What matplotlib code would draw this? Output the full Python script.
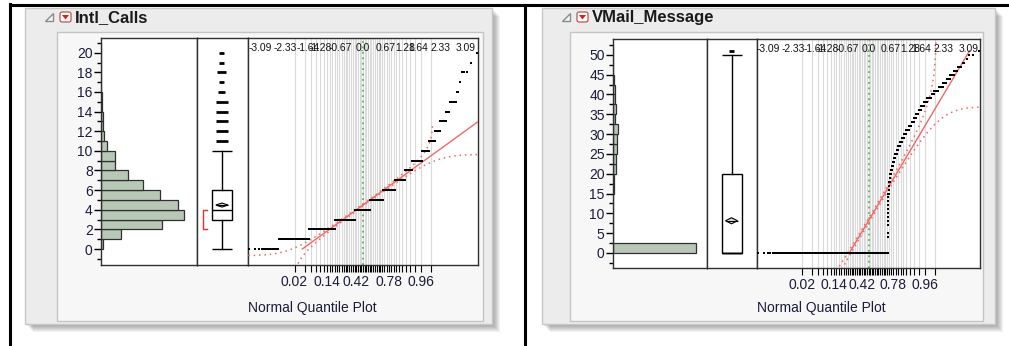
import numpy as np
import matplotlib
matplotlib.use("Agg")
import matplotlib.pyplot as plt
from matplotlib.patches import Rectangle, Polygon, FancyBboxPatch
from matplotlib.ticker import MultipleLocator
from statistics import NormalDist

plt.rcParams['font.family'] = ['Liberation Sans', 'DejaVu Sans']

W, H = 1009, 346

# ── data ────────────────────────────────────────────────────────────────────
intl_values = np.arange(0, 21)
intl_counts = [18, 160, 489, 668, 619, 472, 336, 218, 116, 109, 50,
               28, 15, 14, 6, 7, 2, 1, 3, 1, 1]

vmail_values = np.arange(0, 52)
vmail_counts = [2411, 0, 0, 0, 1, 1, 0, 1, 2, 1,
                1, 2, 6, 4, 7, 9, 13, 14, 7, 19,
                22, 28, 32, 36, 42, 37, 41, 44, 51, 53,
                44, 60, 41, 41, 29, 32, 34, 29, 25, 30,
                16, 19, 15, 9, 7, 6, 4, 3, 2, 1,
                2, 1]

top_quantile_labels = ['-3.09', '-2.33', '-1.64', '-1.28', '-0.67', '0.0',
                       '0.67', '1.28', '1.64', '2.33', '3.09']
prob_grid = np.round(np.arange(0.02, 0.99, 0.02), 2)
prob_labels = [0.02, 0.14, 0.42, 0.78, 0.96]
band_d = 0.018

ND = NormalDist()
TXT = '#1c1c3c'
EDGE = '#303030'
RED = '#f06868'


def rect(l, t, r, b):
    return [l / W, 1 - b / H, (r - l) / W, (b - t) / H]


fig = plt.figure(figsize=(W / 100, H / 100), dpi=100)
bg = fig.add_axes([0, 0, 1, 1], zorder=-10)
bg.set_xlim(0, W)
bg.set_ylim(H, 0)
bg.axis('off')

# table borders
bg.plot([10, 10], [4, H], color='black', lw=2.2)
bg.plot([10, W], [5, 5], color='black', lw=2.2)
bg.plot([525, 525], [5, H], color='black', lw=2.2)


def frame(x0, y0, x1, y1, ix0, iy0, ix1, iy1, title):
    for k in range(1, 9):
        bg.add_patch(Rectangle((x0 + k, y0 + k), x1 - x0, y1 - y0,
                               fc='black', ec='none', alpha=0.05))
    bg.add_patch(Rectangle((x0, y0), x1 - x0, y1 - y0, fc='#ececec', ec='#c8c8c8', lw=1))
    bg.add_patch(Rectangle((ix0, iy0), ix1 - ix0, iy1 - iy0, fc='#f7f7f7', ec='#c4c4c4', lw=1))
    # disclosure triangle
    bg.add_patch(Polygon([(x0 + 20, 21), (x0 + 28, 21), (x0 + 28, 13)],
                         closed=True, fc='#f4f4f4', ec='#8a8a8a', lw=1))
    # red popup icon
    bg.add_patch(FancyBboxPatch((x0 + 35, 12), 11, 10, boxstyle='round,pad=0,rounding_size=2',
                                fc='white', ec='#c04040', lw=0.8))
    bg.add_patch(Polygon([(x0 + 37, 15), (x0 + 44, 15), (x0 + 40.5, 19.5)],
                         closed=True, fc='#d42020', ec='none'))
    bg.text(x0 + 50, 17.5, title, fontsize=12, fontweight='bold', ha='left',
            va='center', color='#1a1a1a')


def panel(hist_px, box_px, qq_px, values, counts, bin_w, ylim, major, minor, hist_xmax):
    data = np.repeat(values, counts)
    n = len(data)
    mean, sd = data.mean(), data.std(ddof=1)

    # histogram
    ax_h = fig.add_axes(rect(*hist_px))
    edges = np.arange(0, values.max() + bin_w * 1.001, bin_w)
    h, _ = np.histogram(values, bins=edges, weights=counts)
    ax_h.barh(edges[:-1], h, height=bin_w, align='edge', color='#b8c8b6',
              edgecolor=EDGE, lw=0.9)
    ax_h.set_xlim(0, hist_xmax)
    ax_h.set_ylim(*ylim)
    ax_h.set_xticks([])
    ax_h.yaxis.set_major_locator(MultipleLocator(major))
    ax_h.yaxis.set_minor_locator(MultipleLocator(minor))
    ax_h.tick_params(axis='y', which='major', length=5, width=1, labelsize=10,
                     labelcolor=TXT, pad=1)
    ax_h.tick_params(axis='y', which='minor', length=3, width=1)

    # box plot
    ax_b = fig.add_axes(rect(*box_px))
    q1, med, q3 = np.percentile(data, [25, 50, 75])
    iqr = q3 - q1
    lo = data[data >= q1 - 1.5 * iqr].min()
    hi = data[data <= q3 + 1.5 * iqr].max()
    c, bw = 0.49, 0.2
    ax_b.add_patch(Rectangle((c - bw, q1), 2 * bw, q3 - q1, fc='white', ec='black', lw=1))
    ax_b.hlines([med, lo, hi], c - bw, c + bw, color='black', lw=1)
    ax_b.plot([c, c], [lo, q1], color='black', lw=1)
    ax_b.plot([c, c], [q3, hi], color='black', lw=1)
    for v, k in zip(values, counts):
        if k > 0 and (v > hi or v < lo):
            half = min(3 + 2 * k, 12) / 2 / (box_px[2] - box_px[0])
            ax_b.hlines(v, c - half, c + half, color='black', lw=2)
    ci = 1.96 * sd / np.sqrt(n)
    ax_b.add_patch(Polygon([(c - 0.12, mean), (c, mean + ci + 0.12 * minor),
                            (c + 0.12, mean), (c, mean - ci - 0.12 * minor)],
                           closed=True, fc='#dddddd', ec='black', lw=0.8))
    ax_b.hlines(mean, c - 0.12, c + 0.12, color='black', lw=0.8)
    srt = np.sort(data)
    half_n = n // 2
    i = np.argmin(srt[half_n:] - srt[:n - half_n])
    s_lo, s_hi = srt[i], srt[i + half_n]
    if s_hi > s_lo:
        ax_b.plot([0.2, 0.12, 0.12, 0.2], [s_lo, s_lo, s_hi, s_hi], color='#e03030', lw=1)
    ax_b.set_xlim(0, 1)
    ax_b.set_ylim(*ylim)
    ax_b.set_xticks([])
    ax_b.set_yticks([])

    # normal quantile plot
    ax_q = fig.add_axes(rect(*qq_px))
    zgrid = [ND.inv_cdf(p) for p in prob_grid]
    for zg in zgrid:
        ax_q.axvline(zg, color='#dadada', lw=0.8, zorder=0)
    ax_q.axvline(0, color='#5cb85c', lw=1.3, ls=(0, (1, 2)), zorder=1)
    z = np.array([ND.inv_cdf(r / (n + 1)) for r in range(1, n + 1)])
    ax_q.scatter(z, data, s=2.6, marker='s', color='black', lw=0, zorder=4)

    xl = 3.45
    z0 = (data.min() - mean) / sd
    z1 = min((data.max() - mean) / sd, xl)
    ax_q.plot([z0, z1], [mean + sd * z0, mean + sd * z1], color=RED, lw=1, zorder=3)
    zz = np.linspace(-3.6, 3.6, 600)
    p = np.array([ND.cdf(v) for v in zz])
    m_up = p + band_d < 1
    m_lo = p - band_d > 0
    up = [mean + sd * ND.inv_cdf(v + band_d) for v in p[m_up]]
    dn = [mean + sd * ND.inv_cdf(v - band_d) for v in p[m_lo]]
    ax_q.plot(zz[m_up], up, color=RED, lw=1.1, ls=(0, (1, 2.5)), zorder=3)
    ax_q.plot(zz[m_lo], dn, color=RED, lw=1.1, ls=(0, (1, 2.5)), zorder=3)

    ax_q.set_xlim(-xl, xl)
    ax_q.set_ylim(*ylim)
    ax_q.set_yticks([])
    ax_q.set_xticks(zgrid)
    ax_q.set_xticklabels([f'{pg:.2f}' if pg in prob_labels else '' for pg in prob_grid])
    ax_q.tick_params(axis='x', length=5, width=0.8, labelsize=10, labelcolor=TXT, pad=2)
    for lab in top_quantile_labels:
        ax_q.text(float(lab), 0.978, lab, transform=ax_q.get_xaxis_transform(),
                  ha='center', va='top', fontsize=7.4, color='#111111')
    for a in (ax_h, ax_b, ax_q):
        for s in a.spines.values():
            s.set_color(EDGE)
            s.set_linewidth(1)
    bg.text(qq_px[0], 308, 'Normal Quantile Plot', fontsize=10, ha='left',
            va='center', color=TXT)


frame(25, 8, 492, 324, 57, 32, 483, 321, 'Intl_Calls')
frame(542, 8, 995, 324, 570, 32, 983, 321, 'VMail_Message')

panel((101, 38, 197, 265), (197, 38, 248, 265), (248, 38, 478, 265),
      intl_values, intl_counts, 1, (-1.63, 21.5), 2, 1, 770)
panel((613, 39, 707, 268), (707, 39, 757, 268), (757, 39, 980, 268),
      vmail_values, vmail_counts, 2.5, (-3.8, 54.0), 5, 2.5, 2735)

fig.savefig('out.png', dpi=100)
